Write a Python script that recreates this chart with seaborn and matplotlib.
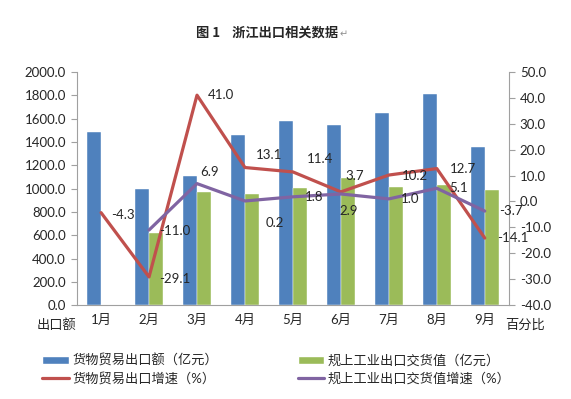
import numpy as np
import pandas as pd
import matplotlib
matplotlib.use("Agg")
import matplotlib.pyplot as plt
import seaborn as sns
from matplotlib.patches import Patch
from matplotlib.lines import Line2D

# data
months = ["1月", "2月", "3月", "4月", "5月", "6月", "7月", "8月", "9月"]
trade_export = [1481, 997, 1111, 1462, 1581, 1547, 1650, 1809, 1359]
industry_export = [np.nan, 615, 966, 949, 1003, 1088, 1011, 1034, 989]
trade_growth = [-4.3, -29.1, 41.0, 13.1, 11.4, 3.7, 10.2, 12.7, -14.1]
industry_growth = [np.nan, -11.0, 6.9, 0.2, 1.8, 2.9, 1.0, 5.1, -3.7]

name_trade = "货物贸易出口额（亿元）"
name_industry = "规上工业出口交货值（亿元）"
name_trade_g = "货物贸易出口增速（%）"
name_industry_g = "规上工业出口交货值增速（%）"

blue = "#4F81BD"
green = "#9BBB59"
red = "#C0504D"
purple = "#8064A2"

sns.set_style("white")
plt.rcParams["font.family"] = ["Lato", "Noto Sans CJK SC", "DejaVu Sans"]
plt.rcParams["font.size"] = 9

bars = pd.DataFrame({
    "month": months * 2,
    "value": trade_export + industry_export,
    "series": [name_trade] * 9 + [name_industry] * 9,
})

fig = plt.figure(figsize=(5.71, 3.99), dpi=100)
ax = fig.add_axes([0.135, 0.235, 0.756, 0.585])
sns.barplot(data=bars, x="month", y="value", hue="series",
            palette=[blue, green], width=0.58, saturation=1,
            edgecolor="white", linewidth=0.3, legend=False, ax=ax)

ax2 = ax.twinx()
idx = np.arange(len(months))
sns.lineplot(x=idx, y=trade_growth, color=red, linewidth=2.3, ax=ax2)
sns.lineplot(x=idx, y=industry_growth, color=purple, linewidth=2.3, ax=ax2)

# data label offsets in pixels (dx, dy)
red_off = [(22, -2), (26, -2), (24, 0), (24, 13), (27, 13), (14, 16),
           (26, -1), (26, 0), (28, 0)]
purple_off = [None, (26, -1), (13, 12), (30, -22), (21, 0), (8, -17),
              (21, 0), (22, 0), (26, 0)]
for i, v in enumerate(trade_growth):
    ax2.annotate(f"{v:.1f}", (i, v), xytext=red_off[i],
                 textcoords="offset pixels", ha="center", va="center",
                 fontsize=9.5)
for i, v in enumerate(industry_growth):
    if np.isnan(v):
        continue
    ax2.annotate(f"{v:.1f}", (i, v), xytext=purple_off[i],
                 textcoords="offset pixels", ha="center", va="center",
                 fontsize=9.5)

ax.set_xlim(-0.5, 8.5)
ax.set_ylim(0, 2000)
ax.set_yticks(np.arange(0, 2001, 200))
ax.set_yticklabels([f"{t:.1f}" for t in np.arange(0, 2001, 200)], fontsize=9.5)
ax2.set_ylim(-40, 50)
ax2.set_yticks(np.arange(-40, 51, 10))
ax2.set_yticklabels([f"{t:.1f}" for t in np.arange(-40, 51, 10)], fontsize=9.5)

ax.set_xlabel("")
ax.set_ylabel("")
ax.set_xticks(idx)
ax.set_xticklabels(months, fontsize=9.5)
ax.set_xticks(np.arange(-0.5, 9, 1), minor=True)
ax.tick_params(axis="x", which="major", length=0, pad=6)
ax.tick_params(axis="x", which="minor", length=4, color="#A0A0A0",
               direction="out")
ax.tick_params(axis="y", length=4, color="#A0A0A0", direction="out", pad=4)
ax2.tick_params(axis="y", length=4, color="#A0A0A0", direction="out", pad=4)

for a in (ax, ax2):
    for side in ("left", "right", "bottom"):
        a.spines[side].set_color("#A0A0A0")
        a.spines[side].set_linewidth(0.8)
    a.spines["top"].set_visible(False)
ax.spines["right"].set_visible(False)
ax2.spines["left"].set_visible(False)
ax2.spines["bottom"].set_visible(False)

fig.text(0.064, 0.187, "出口额", ha="left", va="center", fontsize=9.5)
fig.text(0.885, 0.187, "百分比", ha="left", va="center", fontsize=9.5)

title = fig.text(0.468, 0.917, "图 1    浙江出口相关数据", ha="center",
                 va="center", fontsize=9.5, fontweight="bold",
                 family=["Noto Sans CJK SC", "DejaVu Sans"])
fig.canvas.draw()
bb = title.get_window_extent(fig.canvas.get_renderer())
fig.text(bb.x1 / fig.bbox.width + 0.002, 0.914, "↵", ha="left", va="center",
         fontsize=7, color="#909090", family=["DejaVu Sans"])

handles = [Patch(facecolor=blue, label=name_trade),
           Line2D([], [], color=red, linewidth=2.3, label=name_trade_g),
           Patch(facecolor=green, label=name_industry),
           Line2D([], [], color=purple, linewidth=2.3, label=name_industry_g)]
fig.legend(handles=handles, ncol=2, loc="upper left",
           bbox_to_anchor=(0.065, 0.128), frameon=False, fontsize=9.5,
           handlelength=2.0, handleheight=0.6, handletextpad=0.3,
           columnspacing=6.0, labelspacing=0.42, borderaxespad=0)

fig.savefig("out.png", dpi=100)
